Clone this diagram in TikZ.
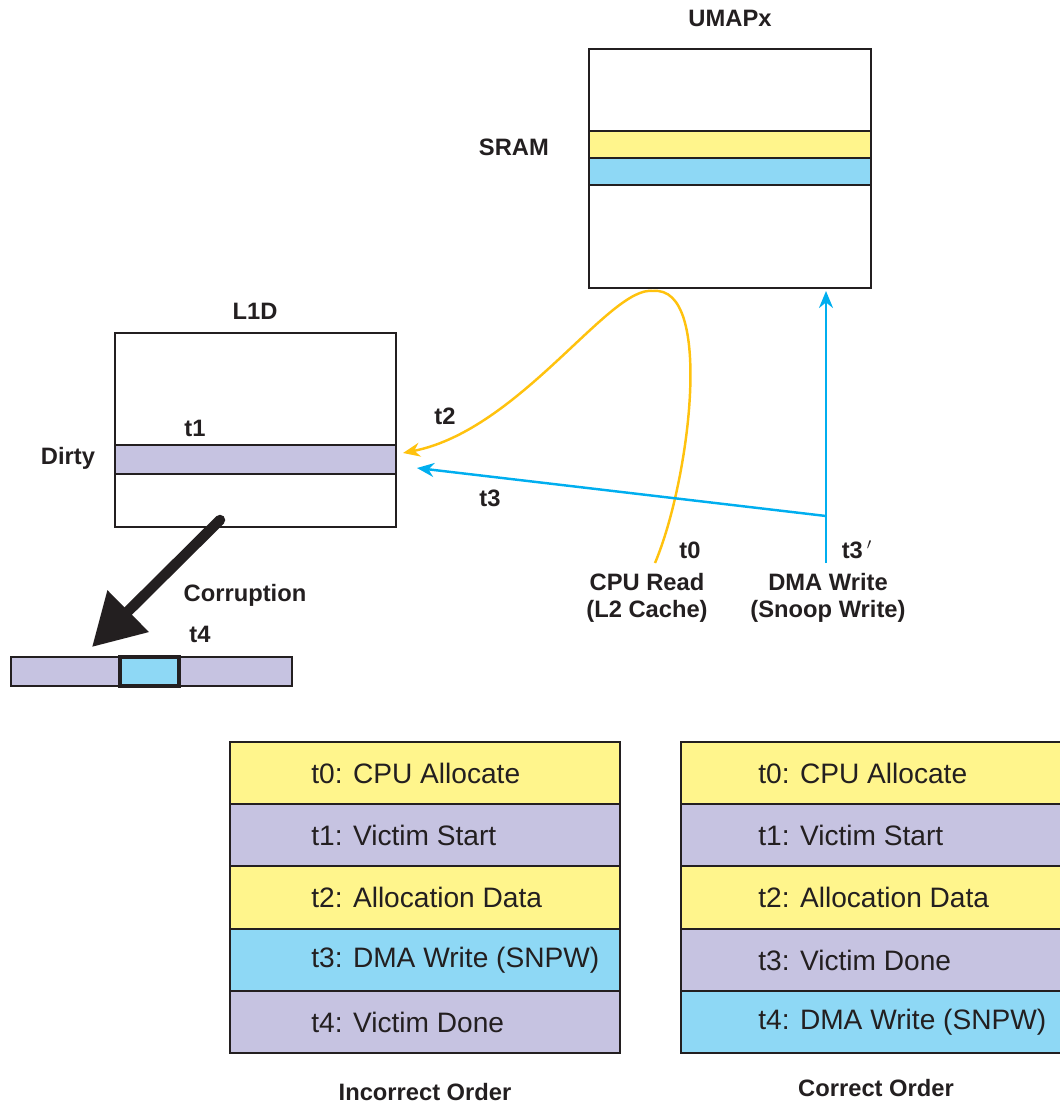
\documentclass[tikz,border=0pt]{standalone}
\usepackage{fontspec}
\setmainfont{Liberation Sans}
\usetikzlibrary{arrows.meta}
\definecolor{memyellow}{RGB}{255,245,140}
\definecolor{memblue}{RGB}{142,216,245}
\definecolor{mempurple}{RGB}{198,195,225}
\definecolor{cpuline}{RGB}{255,194,14}
\definecolor{dmaline}{RGB}{0,174,239}
\definecolor{ink}{RGB}{35,31,32}
\begin{document}
\begin{tikzpicture}[x=0.02cm, y=-0.02cm, line join=miter, >={Stealth[length=0.34cm, width=0.28cm]},
	font=\bfseries\fontsize{13.5}{15.5}\selectfont, text=ink]
	\tikzset{memline/.style={draw=ink, line width=1.1pt},
		rowtext/.style={anchor=west, inner sep=0pt, font=\fontsize{16}{18}\selectfont},
		cpuarrow/.style={draw=cpuline, line width=1.4pt},
		dmaarrow/.style={draw=dmaline, line width=1.4pt}}
	\useasboundingbox (0,0) rectangle (1060,1105);
	\clip (0,0) rectangle (1060,1105);
	% UMAPx with SRAM lines
	\draw[memline, fill=white] (589,49) rectangle (871,288);
	\draw[memline, fill=memyellow] (589,131) rectangle (871,158);
	\draw[memline, fill=memblue] (589,158) rectangle (871,185);
	\node (umaplbl) at (730,18) {UMAPx};
	\node[anchor=east] (sramlbl) at (555,147) {SRAM};
	% L1D with dirty line
	\draw[memline, fill=white] (115,333) rectangle (396,527);
	\draw[memline, fill=mempurple] (115,445) rectangle (396,474);
	\node (l1dlbl) at (255,311) {L1D};
	\node (t1lbl) at (195,428) {t1};
	\node (dirtylbl) at (68,458) {Dirty};
	% corrupted line
	\draw[memline, fill=mempurple] (11,657) rectangle (292,686);
	\draw[memline, line width=1.8pt, fill=memblue] (120,657) rectangle (179,686);
	\node (corrlbl) at (245,595) {Corruption};
	\node (t4lbl) at (200,634) {t4};
	% connector ends
	\coordinate (cpu) at (655,563);
	\coordinate (cputop) at (653,291);
	\coordinate (dirtycpu) at (403,453);
	\coordinate (dma) at (826,563);
	\coordinate (dmasplit) at (826,516);
	\coordinate (umapin) at (826,291);
	\coordinate (dirtydma) at (417,468);
	\coordinate (l1dout) at (220,520);
	\coordinate (barin) at (92,647);
	\draw[cpuarrow, ->] (cpu) .. controls (690,480) and (714,285) .. (cputop)
		.. controls (610,285) and (520,430) .. (dirtycpu);
	\draw[dmaarrow, ->] (dma) -- (umapin);
	\draw[dmaarrow, ->] (dmasplit) -- (dirtydma);
	\draw[ink, line width=0.21cm, line cap=round, -{Triangle[length=1.02cm, width=1.12cm]}] (l1dout) -- (barin);
	\node (t2lbl) at (445,416) {t2};
	\node (t3lbl) at (490,498) {t3};
	\node (t0lbl) at (690,550) {t0};
	\node (t3plbl) at (857,550) {t3\,$'$};
	\node[align=center] (cpulbl) at (647,598) {CPU Read\\(L2 Cache)};
	\node[align=center] (dmalbl) at (828,598) {DMA Write\\(Snoop Write)};
	% incorrect order
	\draw[memline, fill=memyellow] (230,742) rectangle (620,804);
	\draw[memline, fill=mempurple] (230,804) rectangle (620,866);
	\draw[memline, fill=memyellow] (230,866) rectangle (620,929);
	\draw[memline, fill=memblue] (230,929) rectangle (620,991);
	\draw[memline, fill=mempurple] (230,991) rectangle (620,1053);
	\node[rowtext] (bad0) at (311,773) {t0: CPU Allocate};
	\node[rowtext] (bad1) at (311,835) {t1: Victim Start};
	\node[rowtext] (bad2) at (311,897) {t2: Allocation Data};
	\node[rowtext] (bad3) at (311,960) {t3: DMA Write (SNPW)};
	\node[rowtext] (bad4) at (311,1022) {t4: Victim Done};
	\node (badlbl) at (425,1092) {Incorrect Order};
	% correct order
	\draw[memline, fill=memyellow] (681,742) rectangle (1075,804);
	\draw[memline, fill=mempurple] (681,804) rectangle (1075,866);
	\draw[memline, fill=memyellow] (681,866) rectangle (1075,929);
	\draw[memline, fill=mempurple] (681,929) rectangle (1075,991);
	\draw[memline, fill=memblue] (681,991) rectangle (1075,1053);
	\node[rowtext] (good0) at (758,773) {t0: CPU Allocate};
	\node[rowtext] (good1) at (758,835) {t1: Victim Start};
	\node[rowtext] (good2) at (758,897) {t2: Allocation Data};
	\node[rowtext] (good3) at (758,960) {t3: Victim Done};
	\node[rowtext] (good4) at (758,1022) {t4: DMA Write (SNPW)};
	\node (goodlbl) at (876,1088) {Correct Order};
\end{tikzpicture}
\end{document}
